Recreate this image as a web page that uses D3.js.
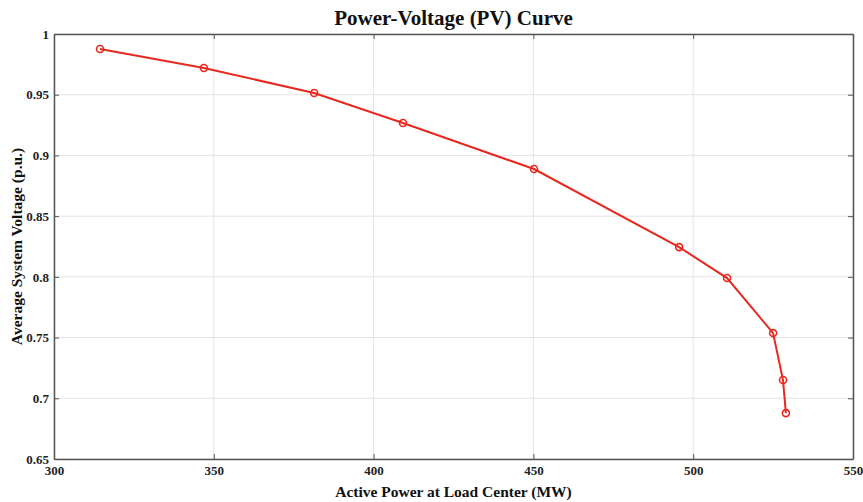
<!DOCTYPE html>
<html>
<head>
<meta charset="utf-8">
<script src="https://cdn.jsdelivr.net/npm/d3@7"></script>
<style>
  body { margin: 0; background: #fff; }
  svg text { font-family: "Liberation Serif", "Times New Roman", serif; font-weight: bold; }
</style>
</head>
<body>
<svg id="chart" width="863" height="502"></svg>
<script>
// values
var power = [314.4, 346.9, 381.4, 409.2, 450.2, 495.6, 510.6, 525.0, 528.1, 529.0];
var voltage = [0.9876, 0.972, 0.9514, 0.9267, 0.8888, 0.8245, 0.799, 0.7537, 0.715, 0.6878];
var xTicks = [300, 350, 400, 450, 500, 550];
var yTicks = [0.65, 0.7, 0.75, 0.8, 0.85, 0.9, 0.95, 1];

var svg = d3.select("#chart");
// plot box (note: "top" is taken by window.top, so use plot* names)
var plotLeft = 54, plotRight = 853, plotTop = 34, plotBottom = 459;

var x = d3.scaleLinear().domain([300, 550]).range([plotLeft, plotRight]);
var y = d3.scaleLinear().domain([0.65, 1]).range([plotBottom, plotTop]);

// grid
var grid = svg.append("g").attr("class", "grid");
grid.selectAll("line.gx").data(xTicks).enter().append("line")
    .attr("x1", function (d) { return x(d); })
    .attr("x2", function (d) { return x(d); })
    .attr("y1", plotTop).attr("y2", plotBottom)
    .attr("stroke", "#e3e3e3").attr("stroke-width", 1);
grid.selectAll("line.gy").data(yTicks).enter().append("line")
    .attr("y1", function (d) { return y(d); })
    .attr("y2", function (d) { return y(d); })
    .attr("x1", plotLeft).attr("x2", plotRight)
    .attr("stroke", "#e3e3e3").attr("stroke-width", 1);

// axes, ticks pointing inward, matlab style box
function styleAxis(g) {
    g.select(".domain").attr("stroke", "#555").attr("stroke-width", 1.5);
    g.selectAll(".tick line").attr("stroke", "#555");
    g.selectAll("text").attr("fill", "#222").style("font-size", "13px");
}

svg.append("g")
    .attr("transform", "translate(0," + plotBottom + ")")
    .call(d3.axisBottom(x).tickValues(xTicks).tickSizeInner(-5).tickSizeOuter(0).tickPadding(7).tickFormat(d3.format("d")))
    .call(styleAxis);
svg.append("g")
    .attr("transform", "translate(0," + plotTop + ")")
    .call(d3.axisTop(x).tickValues(xTicks).tickSizeInner(-5).tickSizeOuter(0).tickFormat(""))
    .call(styleAxis);
svg.append("g")
    .attr("transform", "translate(" + plotLeft + ",0)")
    .call(d3.axisLeft(y).tickValues(yTicks).tickSizeInner(-5).tickSizeOuter(0).tickPadding(5).tickFormat(d3.format("")))
    .call(styleAxis);
svg.append("g")
    .attr("transform", "translate(" + plotRight + ",0)")
    .call(d3.axisRight(y).tickValues(yTicks).tickSizeInner(-5).tickSizeOuter(0).tickFormat(""))
    .call(styleAxis);

// curve
var pts = power.map(function (p, i) { return [p, voltage[i]]; });
var line = d3.line()
    .x(function (d) { return x(d[0]); })
    .y(function (d) { return y(d[1]); });

svg.append("path")
    .datum(pts)
    .attr("d", line)
    .attr("fill", "none")
    .attr("stroke", "#e8281e")
    .attr("stroke-width", 2);

svg.selectAll("circle.pt").data(pts).enter().append("circle")
    .attr("class", "pt")
    .attr("cx", function (d) { return x(d[0]); })
    .attr("cy", function (d) { return y(d[1]); })
    .attr("r", 3.5)
    .attr("fill", "none")
    .attr("stroke", "#e8281e")
    .attr("stroke-width", 1.6);

// labels
svg.append("text")
    .attr("x", (plotLeft + plotRight) / 2).attr("y", 25)
    .attr("text-anchor", "middle")
    .style("font-size", "21px").attr("fill", "#111")
    .text("Power-Voltage (PV) Curve");

svg.append("text")
    .attr("x", (plotLeft + plotRight) / 2).attr("y", 497)
    .attr("text-anchor", "middle")
    .style("font-size", "15.5px").attr("fill", "#111")
    .text("Active Power at Load Center (MW)");

svg.append("text")
    .attr("transform", "translate(22," + ((plotTop + plotBottom) / 2) + ") rotate(-90)")
    .attr("text-anchor", "middle")
    .style("font-size", "15.5px").attr("fill", "#111")
    .text("Average System Voltage (p.u.)");
</script>
</body>
</html>
